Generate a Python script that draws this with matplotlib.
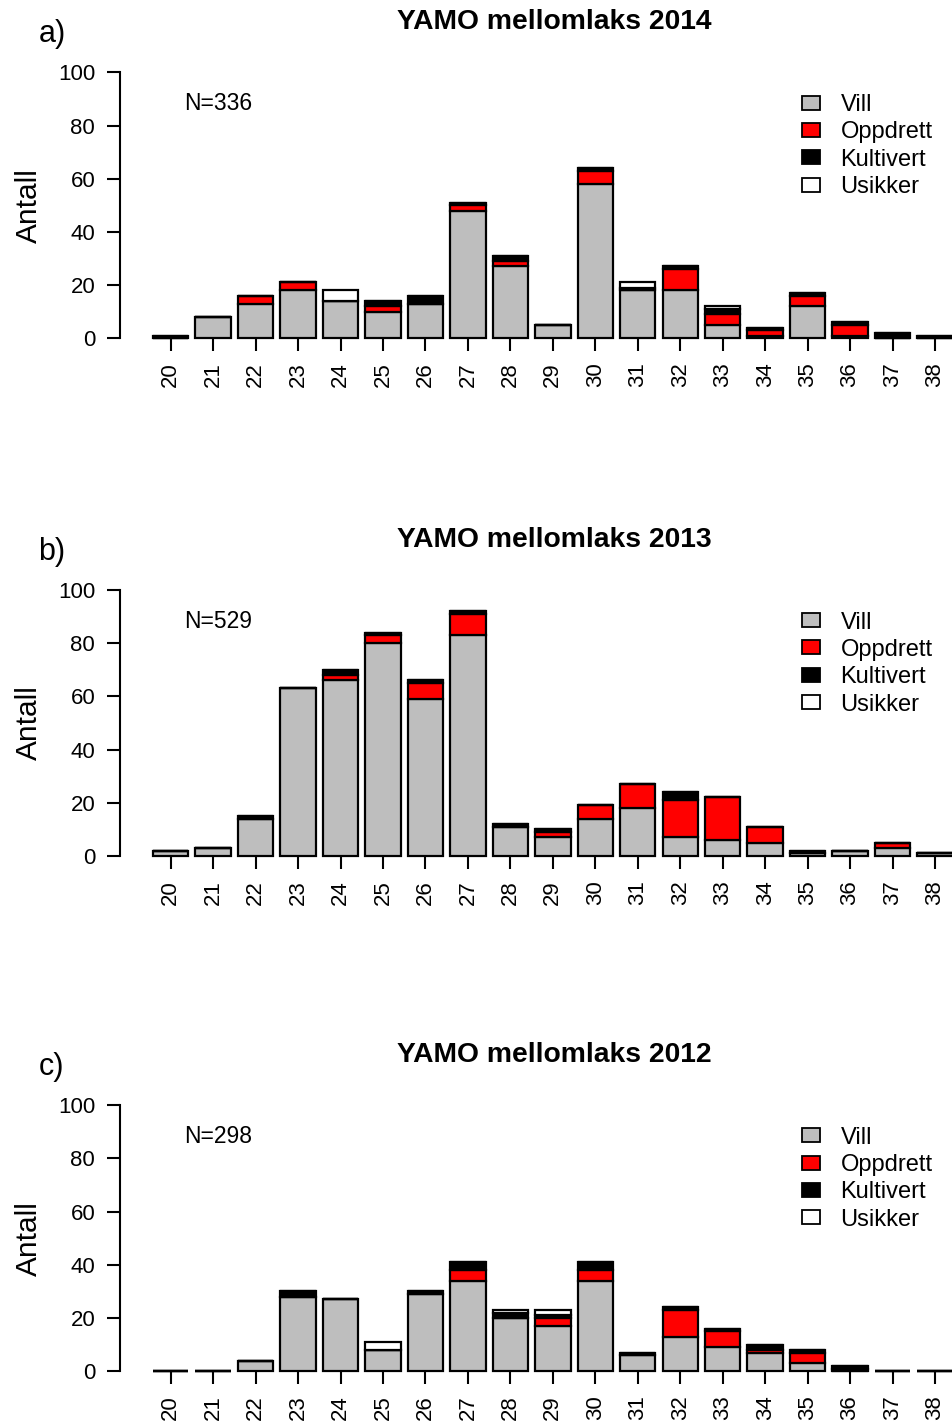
import numpy as np
import matplotlib
matplotlib.use("Agg")
import matplotlib.pyplot as plt
from matplotlib.patches import Rectangle

plt.rcParams['font.family'] = ['Liberation Sans', 'DejaVu Sans']

lengths = [str(v) for v in range(20, 39)]
categories = ["Vill", "Oppdrett", "Kultivert", "Usikker"]
colors = ["#BEBEBE", "#FF0000", "#000000", "#FFFFFF"]

# 2014
vill_2014 = [0, 8, 13, 18, 14, 10, 13, 48, 27, 5, 58, 18, 18, 5, 1, 12, 1, 0, 0]
opp_2014  = [0, 0, 3, 3, 0, 2, 0, 2, 2, 0, 5, 0, 8, 4, 2, 4, 4, 0, 0]
kult_2014 = [1, 0, 0, 0, 0, 2, 3, 1, 2, 0, 1, 1, 1, 2, 1, 1, 1, 2, 1]
usik_2014 = [0, 0, 0, 0, 4, 0, 0, 0, 0, 0, 0, 2, 0, 1, 0, 0, 0, 0, 0]

# 2013
vill_2013 = [2, 3, 14, 63, 66, 80, 59, 83, 11, 7, 14, 18, 7, 6, 5, 1, 2, 3, 1]
opp_2013  = [0, 0, 0, 0, 2, 3, 6, 8, 0, 2, 5, 9, 14, 16, 6, 0, 0, 2, 0]
kult_2013 = [0, 0, 1, 0, 2, 1, 1, 1, 1, 1, 0, 0, 3, 0, 0, 1, 0, 0, 0]
usik_2013 = [0, 0, 0, 0, 0, 0, 0, 0, 0, 0, 0, 0, 0, 0, 0, 0, 0, 0, 0]

# 2012
vill_2012 = [0, 0, 4, 28, 27, 8, 29, 34, 20, 17, 34, 6, 13, 9, 7, 3, 0, 0, 0]
opp_2012  = [0, 0, 0, 0, 0, 0, 0, 4, 0, 3, 4, 0, 10, 6, 1, 4, 1, 0, 0]
kult_2012 = [0, 0, 0, 2, 0, 0, 1, 3, 2, 1, 3, 1, 1, 1, 2, 1, 1, 0, 0]
usik_2012 = [0, 0, 0, 0, 0, 3, 0, 0, 1, 2, 0, 0, 0, 0, 0, 0, 0, 0, 0]

panels = [
    ("a)", "YAMO mellomlaks 2014", "N=336", [vill_2014, opp_2014, kult_2014, usik_2014]),
    ("b)", "YAMO mellomlaks 2013", "N=529", [vill_2013, opp_2013, kult_2013, usik_2013]),
    ("c)", "YAMO mellomlaks 2012", "N=298", [vill_2012, opp_2012, kult_2012, usik_2012]),
]

W, H = 952, 1427
fig = plt.figure(figsize=(W / 100, H / 100), dpi=100)

zero_px = [338.3, 856.0, 1371.3]
top_px = [72.3, 590.0, 1105.0]
left_px = 119.5

x = 0.7 + 1.2 * np.arange(len(lengths))
px_per_unit = 42.46 / 1.2
xlim_lo = 0.7 - (170.7 - left_px) / px_per_unit
xlim_hi = 0.7 + (W - 170.7) / px_per_unit

for (lab, title, ntext, series), z, t in zip(panels, zero_px, top_px):
    ax = fig.add_axes([left_px / W, 1 - z / H, (W - left_px) / W, (z - t) / H])
    ax.set_xlim(xlim_lo, xlim_hi)
    ax.set_ylim(0, 100)
    bottom = np.zeros(len(lengths))
    for vals, col in zip(series, colors):
        v = np.array(vals, dtype=float)
        ax.bar(x, v, width=1.0, bottom=bottom, color=col, edgecolor="black",
               linewidth=1.6, clip_on=False, zorder=2)
        bottom += v
    for s in ["top", "right", "bottom"]:
        ax.spines[s].set_visible(False)
    ax.spines["left"].set_linewidth(1.5)
    ax.spines["left"].set_bounds(0, 100)
    ax.set_yticks([0, 20, 40, 60, 80, 100])
    ax.set_xticks(x)
    ax.set_xticklabels(lengths, rotation=90, fontsize=16)
    ax.tick_params(axis="y", direction="out", length=9.5, width=1.5, pad=8, labelsize=16)
    ax.tick_params(axis="x", direction="out", length=9.5, width=1.5, pad=8)
    ax.set_ylabel("Antall", fontsize=21.5, labelpad=11)
    ax.patch.set_alpha(0)

    ax.text(0.0775, 0.883, ntext, transform=ax.transAxes, fontsize=16.5,
            ha="left", va="center")

    # legend
    ys = [0.876, 0.774, 0.672, 0.568]
    sq_x = (801.7 - left_px) / (W - left_px)
    sq_w = 18.3 / (W - left_px)
    sq_h = 14.0 / (z - t)
    tx = (840.5 - left_px) / (W - left_px)
    for cat, col, yy in zip(categories, colors, ys):
        ax.add_patch(Rectangle((sq_x, yy - sq_h / 2 + 0.01), sq_w, sq_h, transform=ax.transAxes,
                               facecolor=col, edgecolor="black", linewidth=1.3,
                               clip_on=False))
        ax.text(tx, yy, cat, transform=ax.transAxes, fontsize=17, ha="left", va="center")

    fig.text(554 / W, 1 - (t - 50) / H, title, fontsize=20.3, fontweight="bold",
             ha="center", va="center")
    fig.text(52 / W, 1 - (t - 38) / H, lab, fontsize=22, ha="center", va="center")

fig.savefig("out.png", dpi=100)
